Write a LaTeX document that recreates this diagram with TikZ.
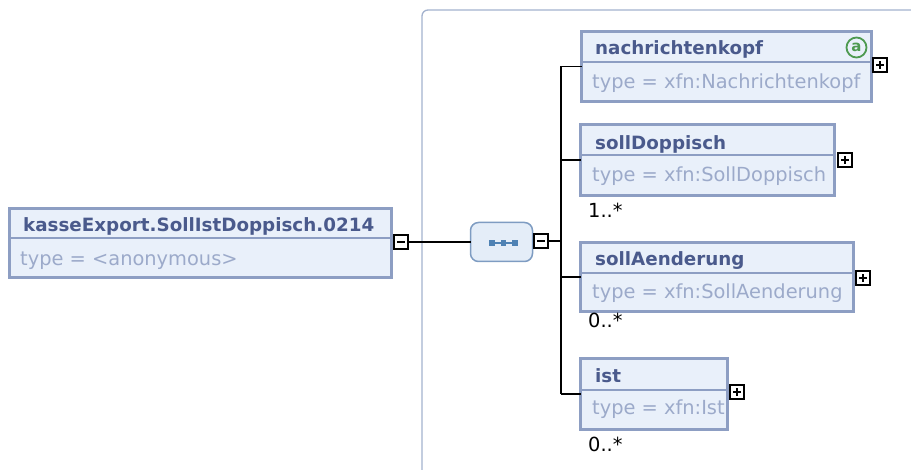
\documentclass[tikz,border=0pt]{standalone}
\usepackage{fontspec}
\setmainfont{DejaVu Sans}
\definecolor{boxborder}{HTML}{8D9EC3}
\definecolor{boxfill}{HTML}{E9F0FA}
\definecolor{hdrcol}{HTML}{4A5A8C}
\definecolor{typecol}{HTML}{9CAACA}
\definecolor{framecol}{HTML}{A3B2CE}
\definecolor{seqborder}{HTML}{7E9CC2}
\definecolor{seqfill}{HTML}{E4EDF8}
\definecolor{seqdot}{HTML}{4F82B4}
\definecolor{attrgreen}{HTML}{4E9A50}
\begin{document}
\begin{tikzpicture}[x=1pt,y=-1pt,
  elbox/.style={draw=boxborder, fill=boxfill, line width=3pt, inner sep=0pt, outer sep=0pt, anchor=north west},
  sepline/.style={draw=boxborder, line width=1.6pt},
  hdrtext/.style={anchor=base west, inner sep=0pt, font=\fontsize{18.3}{22}\selectfont\bfseries, text=hdrcol},
  typetext/.style={anchor=base west, inner sep=0pt, font=\fontsize{19.4}{22}\selectfont, text=typecol},
  multtext/.style={anchor=base west, inner sep=0pt, font=\fontsize{19.4}{22}\selectfont, text=black},
  conn/.style={draw=black, line width=1.6pt},
  iconbox/.style={draw=black, fill=white, line width=1.9pt, minimum size=14pt, inner sep=0pt, outer sep=0pt},
  minusicon/.style={iconbox, path picture={
      \draw[line width=1.7pt] ([xshift=-3.8pt]path picture bounding box.center) -- ([xshift=3.8pt]path picture bounding box.center);}},
  plusicon/.style={iconbox, path picture={
      \draw[line width=1.7pt] ([xshift=-3.8pt]path picture bounding box.center) -- ([xshift=3.8pt]path picture bounding box.center);
      \draw[line width=1.7pt] ([yshift=-3.8pt]path picture bounding box.center) -- ([yshift=3.8pt]path picture bounding box.center);}},
  seqbox/.style={draw=seqborder, fill=seqfill, line width=1.5pt, rounded corners=8pt, minimum width=62pt, minimum height=39pt, inner sep=0pt, outer sep=0pt},
  seqdotst/.style={fill=seqdot, minimum size=5.5pt, inner sep=0pt},
  attricon/.style={circle, draw=attrgreen, line width=1.8pt, minimum size=20pt, inner sep=0pt, text=attrgreen, font=\fontsize{15}{15}\selectfont\bfseries}
]
\useasboundingbox (0,0) rectangle (911,470);

% outer group frame
\coordinate (frbl) at (422,472);
\coordinate (frtl) at (422,10);
\coordinate (frtr) at (913,10);
\draw[draw=framecol, line width=1.3pt, rounded corners=6pt] (frbl) -- (frtl) -- (frtr);

% root element
\node[elbox, minimum width=382pt, minimum height=69pt] (main) at (9.5,208.5) {};
\draw[sepline] (11,238) -- (391,238);
\node[hdrtext] (mainh) at (23,232) {kasseExport.SollIstDoppisch.0214};
\node[typetext] (maint) at (20,266) {type = <anonymous>};
\node[minusicon] (mainm) at (401,242) {};

% sequence compositor
\node[seqbox] (seq) at (501.5,242) {};
\node[seqdotst] (d1) at (492,243) {};
\node[seqdotst] (d2) at (503.5,243) {};
\node[seqdotst] (d3) at (515,243) {};
\draw[draw=seqdot, line width=1.2pt] (d1) -- (d2) -- (d3);
\node[minusicon] (seqm) at (541,241) {};

% children
\node[elbox, minimum width=290pt, minimum height=70pt] (nk) at (581.5,31.5) {};
\draw[sepline] (583,62) -- (870,62);
\node[hdrtext] (nkh) at (595,55) {nachrichtenkopf};
\node[typetext] (nkt) at (592,89) {type = xfn:Nachrichtenkopf};
\node[attricon] (nka) at (856.5,47.5) {a};
\node[plusicon] (nkp) at (880,65) {};

\node[elbox, minimum width=254pt, minimum height=71pt] (sd) at (580.5,124.5) {};
\draw[sepline] (582,155) -- (833,155);
\node[hdrtext] (sdh) at (595,150) {sollDoppisch};
\node[typetext] (sdt) at (592,182) {type = xfn:SollDoppisch};
\node[plusicon] (sdp) at (845,160) {};
\node[multtext] (sdm) at (588,218) {1..*};

\node[elbox, minimum width=273pt, minimum height=69pt] (sa) at (580.5,242.5) {};
\draw[sepline] (582,273) -- (852,273);
\node[hdrtext] (sah) at (595,266) {sollAenderung};
\node[typetext] (sat) at (592,299) {type = xfn:SollAenderung};
\node[plusicon] (sap) at (863,278) {};
\node[multtext] (sam) at (588,328) {0..*};

\node[elbox, minimum width=147pt, minimum height=71pt] (ist) at (580.5,358.5) {};
\draw[sepline] (582,390) -- (726,390);
\node[hdrtext] (isth) at (595,383) {ist};
\node[typetext] (istt) at (592,415) {type = xfn:Ist};
\node[plusicon] (istp) at (737,392) {};
\node[multtext] (istm) at (588,451) {0..*};

% connectors
\coordinate (bustop) at (561,66.5);
\coordinate (busbot) at (561,394);
\draw[conn] (mainm.east) -- (seq.west);
\draw[conn] (seqm.east) -- (seqm.east -| bustop);
\draw[conn] (bustop) -- (busbot);
\draw[conn] (bustop) -- (nk.west);
\draw[conn] (sd.west -| bustop) -- (sd.west);
\draw[conn] (sa.west -| bustop) -- (sa.west);
\draw[conn] (busbot) -- (ist.west);
\end{tikzpicture}
\end{document}
